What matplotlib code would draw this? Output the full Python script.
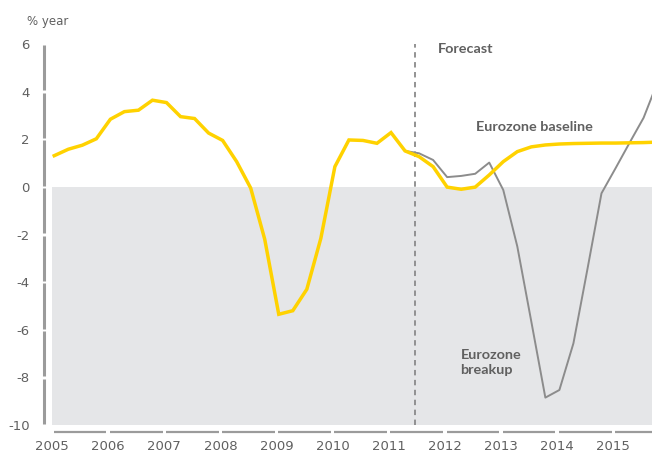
"""Eurozone GDP growth: baseline vs breakup scenario."""

from __future__ import annotations

import matplotlib

matplotlib.use("Agg")
import matplotlib.pyplot as plt
import matplotlib.transforms as mtransforms


# quarterly observations, first quarter of 2005 onwards
START_YEAR = 2005.04
STEP = 0.25

BASELINE = [
    1.31, 1.58, 1.75, 2.02, 2.84, 3.16, 3.22, 3.64, 3.54, 2.95,
    2.87, 2.26, 1.95, 1.06, -0.05, -2.20, -5.35, -5.20, -4.30, -2.16,
    0.85, 1.97, 1.95, 1.83, 2.28, 1.51, 1.27, 0.85, -0.01, -0.10,
    -0.01, 0.50, 1.06, 1.48, 1.68, 1.76, 1.80, 1.82, 1.83, 1.84,
    1.84, 1.85, 1.86, 1.88,
]

# breakup scenario starts at the last common quarter (index 25)
BREAKUP_START = 25
BREAKUP = [
    1.51, 1.41, 1.13, 0.41, 0.46, 0.55, 1.02, -0.13, -2.50, -5.66,
    -8.85, -8.53, -6.57, -3.45, -0.27, 0.78, 1.85, 2.90, 4.40,
]

YEARS = list(range(2005, 2016))
Y_TICKS = [6, 4, 2, 0, -2, -4, -6, -8, -10]
FORECAST_START = 2011.47

YELLOW = "#FFD200"
LINE_GREY = "#8C8C8C"
AXIS_GREY = "#9B9B9B"
TEXT_GREY = "#606060"
SHADE = "#E5E6E8"


def main() -> None:
    plt.rcParams["font.family"] = "DejaVu Sans"
    plt.rcParams["axes.unicode_minus"] = False

    fig = plt.figure(figsize=(6.52, 4.53), dpi=100)
    ax = fig.add_axes([52 / 652, 28 / 453, 600 / 652, 381 / 453])

    x_base = [START_YEAR + STEP * i for i in range(len(BASELINE))]
    x_break = [START_YEAR + STEP * (BREAKUP_START + i) for i in range(len(BREAKUP))]

    ax.axhspan(-10, 0, color=SHADE, zorder=0, lw=0)
    ax.axvline(FORECAST_START, color="#8A8A8A", lw=1.3, ls=(0, (3, 2.5)), zorder=1)
    ax.plot(x_break, BREAKUP, color=LINE_GREY, lw=1.4, zorder=2)
    ax.plot(x_base, BASELINE, color=YELLOW, lw=2.5, zorder=3,
            solid_joinstyle="miter")

    ax.set_xlim(2005, 2015.69)
    ax.set_ylim(-10, 6)
    for spine in ax.spines.values():
        spine.set_visible(False)

    ax.set_yticks(Y_TICKS)
    ax.set_yticklabels([str(v) for v in Y_TICKS])
    ax.set_xticks(YEARS)
    ax.set_xticklabels([str(y) for y in YEARS])
    ax.tick_params(axis="y", length=0, pad=16, labelsize=9.5, labelcolor=TEXT_GREY)
    ax.tick_params(axis="x", length=0, pad=11, labelsize=9.5, labelcolor=TEXT_GREY)

    # broken axis bars, gaps at each tick
    ytrans = mtransforms.blended_transform_factory(ax.transAxes, ax.transData)
    for lo, hi in zip(Y_TICKS[1:], Y_TICKS[:-1]):
        ax.plot([-0.0128, -0.0128], [lo + 0.05, hi - 0.05], transform=ytrans,
                color=AXIS_GREY, lw=2.2, solid_capstyle="butt", clip_on=False)
    xtrans = mtransforms.blended_transform_factory(ax.transData, ax.transAxes)
    for year in YEARS:
        end = min(year + 1 - 0.03, 2015.69)
        ax.plot([year + 0.03, end], [-0.018, -0.018], transform=xtrans,
                color=AXIS_GREY, lw=1.6, solid_capstyle="butt", clip_on=False)

    label_font = dict(family=["Lato", "DejaVu Sans"], fontweight="bold",
                      fontsize=10.4, color=TEXT_GREY)
    ax.text(2011.87, 5.8, "Forecast", va="center", ha="left", **label_font)
    ax.text(2012.56, 2.52, "Eurozone baseline", va="center", ha="left", **label_font)
    ax.text(2012.28, -7.39, "Eurozone\nbreakup", va="center", ha="left",
            linespacing=1.3, **label_font)

    fig.text(27 / 652, 1 - 21 / 453, "% year", ha="left", va="center",
             fontsize=8.5, color=TEXT_GREY)

    fig.savefig("out.png", dpi=100)
    plt.close(fig)


if __name__ == "__main__":
    main()
